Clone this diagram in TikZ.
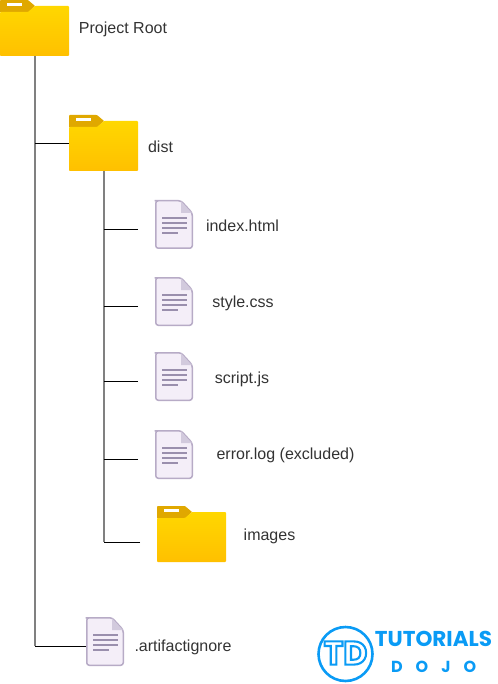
\documentclass[tikz,border=0pt]{standalone}
\usepackage{fontspec}
\setmainfont{Liberation Sans}
\newfontfamily\logofont[Scale=1]{Poppins}
\definecolor{tabc}{HTML}{E0A800}
\definecolor{foldtop}{HTML}{FFD700}
\definecolor{foldbot}{HTML}{FFC000}
\definecolor{docfill}{HTML}{F4EEF8}
\definecolor{docline}{HTML}{B7ABC6}
\definecolor{docfold}{HTML}{D2CADD}
\definecolor{docbar}{HTML}{9A8FAD}
\definecolor{logoc}{HTML}{0A9BF5}
\definecolor{txt}{HTML}{333333}
\tikzset{
  anchorbox/.style={inner sep=0pt,outer sep=0pt,minimum width=#1},
  folderbox/.style={anchorbox=69pt,minimum height=56pt,anchor=north west},
  docbox/.style={anchorbox=38pt,minimum height=49pt,anchor=north west},
  lbl/.style={inner sep=0pt,anchor=center,text=txt,yshift=-1.5pt,font=\fontsize{16}{18}\selectfont},
  trunk/.style={draw=black!50,line width=1.7pt},
  branch/.style={draw=black,line width=0.9pt},
}
\newcommand{\folderat}[3]{%
  \node[folderbox] (#1) at (#2,#3) {};
  \begin{scope}[shift={(#2,#3)}]
    \fill[tabc] (0,12) -- (0,1) [rounded corners=0.8pt] -- (0,0) -- (28,0) [sharp corners] -- (35,6) -- (28,12.5) -- cycle;
    \fill[white] (7,3) rectangle (22,6);
    \shade[top color=foldtop,bottom color=foldbot,rounded corners=0.8pt]
      (0,56) -- (0,12) -- (28,12) -- (35,6) -- (69,6) -- (69,56) -- cycle;
  \end{scope}}
\newcommand{\docat}[3]{%
  \node[docbox] (#1) at (#2,#3) {};
  \begin{scope}[shift={(#2,#3)}]
    \draw[docline,fill=docfill,line width=1.5pt,rounded corners=2.5pt]
      (2,0.75) -- (26,0.75) -- (37.25,13) -- (37.25,48.25) -- (0.75,48.25) -- (0.75,0.75) -- cycle;
    \fill[docfold] (26,1.2) -- (36.8,13) -- (26,13) -- cycle;
    \foreach \yy/\xx in {18/31.5,23/31.5,28/31.5,33/23}
      \draw[docbar,line width=1.4pt] (7,\yy) -- (\xx,\yy);
  \end{scope}}
\begin{document}
\begin{tikzpicture}[x=1pt,y=-1pt]
\useasboundingbox (0,0) rectangle (497,684);
\folderat{root}{0}{0}
\folderat{dist}{69}{115}
\folderat{images}{157}{506}
\docat{index}{155}{200}
\docat{style}{155}{277}
\docat{script}{155}{352}
\docat{errlog}{155}{430}
\docat{ignore}{86}{617}
\coordinate (bi) at (138,229);
\coordinate (bs) at (138,306);
\coordinate (bc) at (138,381);
\coordinate (be) at (138,459);
\coordinate (bm) at (140,542);
\coordinate (bg) at (86,646);
\coordinate (rt) at ([xshift=0.5pt]root.south);
\coordinate (dt) at ([xshift=0.5pt]dist.south);
\draw[trunk] (rt) -- (bg -| rt);
\draw[trunk] (dt) -- (bm -| dt);
\draw[branch] (dist.west) -- (dist.west -| rt);
\draw[branch] (bg) -- (bg -| rt);
\foreach \c in {bi,bs,bc,be,bm} \draw[branch] (\c) -- (\c -| dt);
\node[lbl] at (123,28) {Project Root};
\node[lbl] at (160.5,145) {dist};
\node[lbl] at (242.5,224) {index.html};
\node[lbl] at (243,302) {style.css};
\node[lbl] at (242,377.5) {script.js};
\node[lbl] at (285.5,453.5) {error.log (excluded)};
\node[lbl] at (269.5,535) {images};
\node[lbl] at (183,645.5) {.artifactignore};
\draw[logoc,line width=2.6pt] (345.5,654) circle (27);
\node[inner sep=0pt,text=logoc] at (345.5,653) {\fontsize{33}{33}\logofont\bfseries\special{pdf:literal direct 1 Tr 2.1 w}TD\special{pdf:literal direct 0 Tr 1 w}};
\node[inner sep=0pt,text=logoc,anchor=center] at (433.5,639) {\fontsize{21.5}{21.5}\logofont\bfseries TUTORIALS};
\foreach \ch/\xx in {D/397,O/422,J/446,O/470}
  \node[inner sep=0pt,text=logoc] at (\xx,666.5) {\fontsize{16}{16}\logofont\bfseries \ch};
\end{tikzpicture}
\end{document}
